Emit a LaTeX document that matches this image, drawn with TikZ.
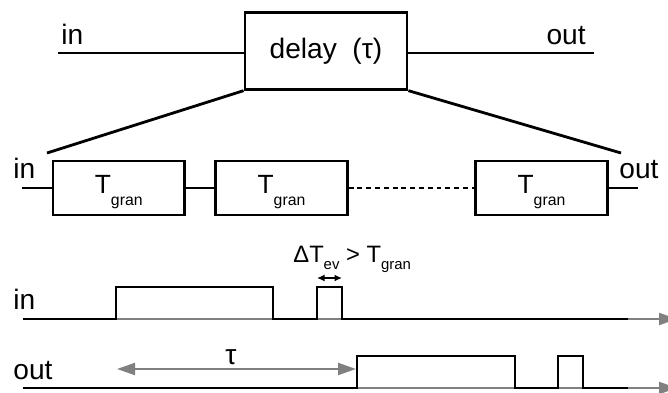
\documentclass[tikz,border=0pt]{standalone}
\usepackage{fontspec}
\setmainfont{Liberation Sans}
\usetikzlibrary{arrows.meta,positioning}
\definecolor{axisgray}{RGB}{128,128,128}
\newcommand{\lowsub}[3]{\raisebox{-#1}{\fontsize{#2}{#2}\selectfont #3}}

\begin{document}
\begin{tikzpicture}[line width=1.6pt,
    every node/.style={font=\fontsize{16}{19}\selectfont},
    blk/.style={draw, line width=1.6pt, inner sep=0pt},
    granbox/.style={blk, minimum width=2.63cm, minimum height=1.08cm,
      font=\fontsize{15}{18}\selectfont, text height=10.7pt, text depth=4pt},
    lbl/.style={inner sep=0pt},
    axis/.style={axisgray, line width=1.2pt, -{Triangle[length=0.36cm,width=0.24cm]}},
    sig/.style={black, line width=1.6pt}]
  \useasboundingbox (0,0) rectangle (13.36,7.84);
  % top: the delay as one block
  \node[blk, minimum width=3.24cm, minimum height=1.53cm] (delay) at (6.52,6.82) {delay\ \ (τ)};
  \coordinate (in0) at (1.16,6.78);
  \coordinate (out0) at (11.88,6.78);
  \draw (in0) -- (in0 -| delay.west);
  \draw (out0 -| delay.east) -- (out0);
  \node[lbl, anchor=base west] (inlbl) at (1.20,6.96) {in};
  \node[lbl, anchor=base east] (outlbl) at (11.74,6.96) {out};
  \coordinate (zl) at (0.94,4.78);
  \coordinate (zr) at (12.42,4.78);
  \draw (delay.south west) -- (zl);
  \draw (delay.south east) -- (zr);
  % chain of granules
  \foreach \n/\x in {g1/2.375, g2/5.63, g3/10.83}
    \node[granbox] (\n) at (\x,4.08) {T\lowsub{6.8pt}{9}{gran}};
  \coordinate (in1) at (0.44,4.08);
  \coordinate (out1) at (12.76,4.08);
  \draw (in1) -- (g1.west);
  \draw (g1.east) -- (g2.west);
  \draw[dash pattern=on 2.8pt off 2.2pt] (g2.east) -- (g3.west);
  \draw (g3.east) -- (out1);
  \node[lbl, anchor=base west] (inlbl1) at (0.24,4.28) {in};
  \node[lbl, anchor=base west] (outlbl1) at (12.36,4.28) {out};
  % timing: in
  \draw[axis] (0.46,1.46) -- (13.54,1.46);
  \draw[sig] (0.46,1.46) -| (2.32,2.10) -| (5.46,1.46) -| (6.34,2.10) -| (6.84,1.46) -- (12.56,1.46);
  \node[lbl, anchor=base west] (inlbl2) at (0.24,1.66) {in};
  \draw[line width=1.1pt, {Latex[length=0.15cm,width=0.14cm]}-{Latex[length=0.15cm,width=0.14cm]}] (6.34,2.28) -- (6.84,2.28);
  \node[lbl, anchor=base west, font=\fontsize{13.5}{16}\selectfont] (dtev) at (5.84,2.60)
    {ΔT\lowsub{4.5pt}{8.5}{ev} > T\lowsub{4.5pt}{8.5}{gran}};
  % timing: out
  \draw[axis] (0.46,0.08) -- (13.54,0.08);
  \draw[sig] (0.46,0.08) -| (7.14,0.72) -| (10.30,0.08) -| (11.16,0.72) -| (11.66,0.08) -- (12.56,0.08);
  \node[lbl, anchor=base west] (outlbl2) at (0.24,0.26) {out};
  \draw[axisgray, line width=1.2pt, {Triangle[length=0.36cm,width=0.24cm]}-{Triangle[length=0.36cm,width=0.24cm]}] (2.34,0.46) -- (7.12,0.46);
  \node[lbl, anchor=base] (tau) at (4.62,0.56) {τ};
\end{tikzpicture}
\end{document}
